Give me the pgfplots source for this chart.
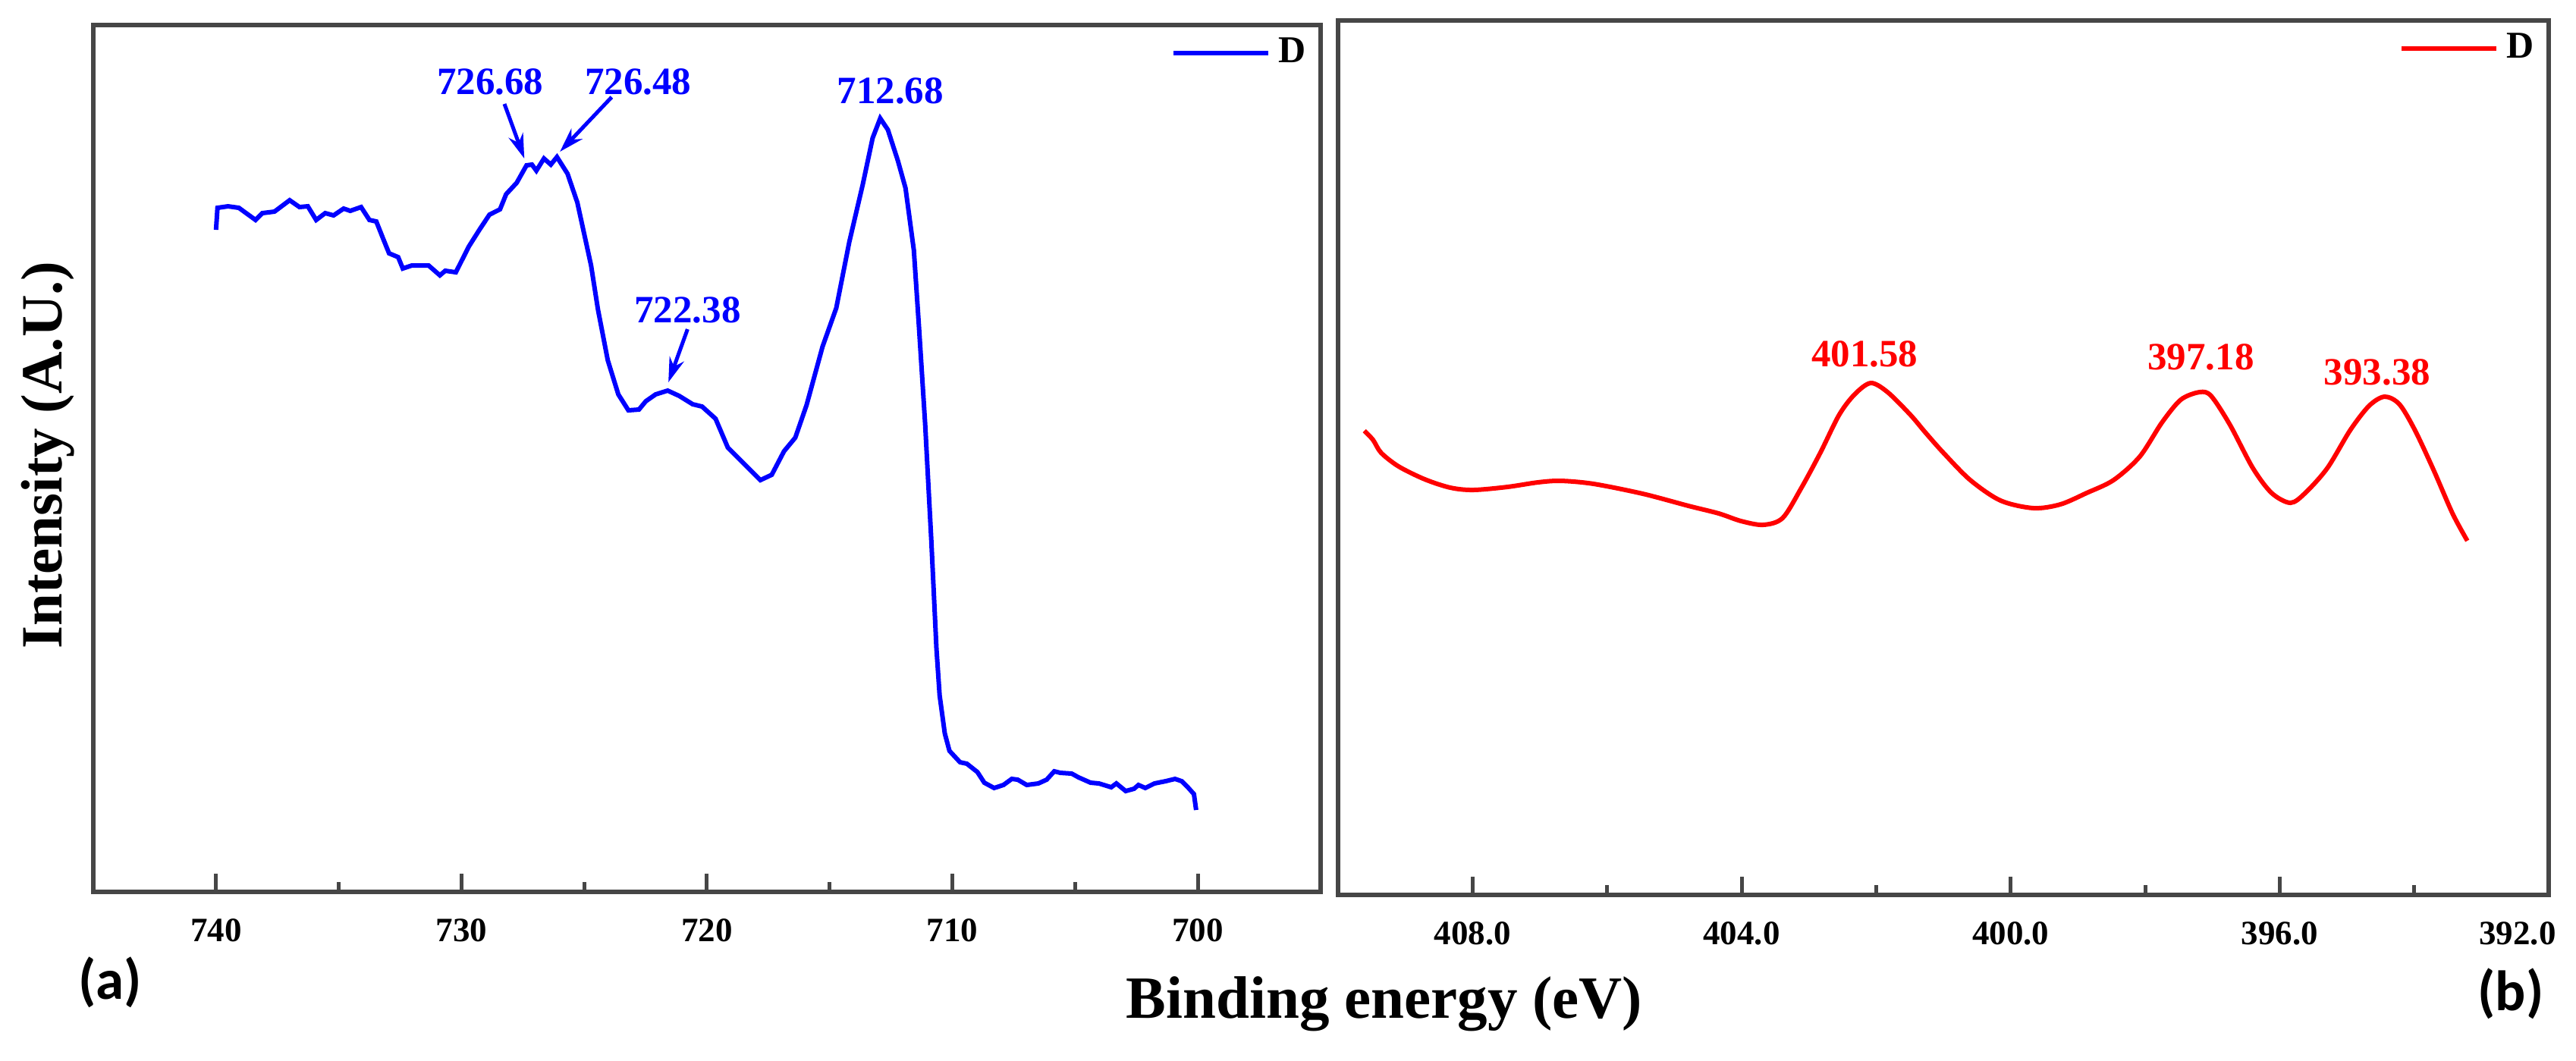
\documentclass[border=0pt]{standalone}
\usepackage{fontspec}
\setmainfont{Liberation Serif}
\newfontfamily\carlito{Carlito}
\usepackage{pgfplots}
\pgfplotsset{compat=1.18}
\usetikzlibrary{arrows.meta}

\definecolor{frame}{RGB}{70,70,70}
\definecolor{pblue}{RGB}{0,0,255}
\definecolor{pred}{RGB}{255,0,0}

\pgfplotsset{
  panel/.style={
    scale only axis,
    axis line style={frame, line width=1.1pt},
    x dir=reverse,
    ymin=0,
    ytick=\empty,
    xtick pos=bottom,
    tick align=inside,
    major tick length=4.8pt,
    minor tick length=2.6pt,
    minor x tick num=1,
    tick style={frame, line width=1pt},
    xticklabel style={font=\fontsize{9}{10}\selectfont\bfseries, yshift=-3.5pt},
    clip=false,
    legend style={draw=none, fill=none, at={(1,1)}, anchor=north east,
      xshift=-1.7pt, yshift=-1.1pt,
      font=\fontsize{10}{12}\selectfont\bfseries, inner sep=0pt},
    legend image code/.code={\draw[#1] (0pt,0pt) -- (25pt,0pt);},
  },
}

\pgfplotstableread{
E y
740.00 873
739.94 902
739.51 904
739.07 902
738.39 886
738.11 895
737.62 897
737.00 912
736.60 903
736.26 904
735.92 886
735.55 895
735.21 892
734.80 901
734.53 898
734.09 903
733.75 886
733.47 884
733.20 862
732.95 842
732.58 837
732.39 822
732.02 826
731.34 826
730.88 813
730.66 819
730.23 817
729.70 851
729.27 873
728.86 893
728.43 900
728.18 920
727.75 935
727.35 958
727.13 959
726.95 951
726.64 967
726.36 959
726.11 969
725.68 947
725.28 909
724.72 826
724.44 768
724.04 701
723.61 656
723.20 635
722.77 636
722.49 647
722.09 656
721.60 661
721.13 654
720.58 643
720.20 640
719.65 624
719.15 586
718.44 563
717.82 543
717.36 550
716.86 581
716.40 599
715.94 642
715.29 719
714.73 770
714.20 857
713.65 933
713.25 994
712.94 1020
712.63 1005
712.22 964
711.91 928
711.57 846
711.36 744
711.11 617
710.86 464
710.65 321
710.52 259
710.31 209
710.12 186
709.69 171
709.41 169
708.98 158
708.70 144
708.30 137
707.92 141
707.58 149
707.34 148
706.97 141
706.50 143
706.16 148
705.85 159
705.60 157
705.14 156
704.86 151
704.37 144
704.03 143
703.53 138
703.32 143
702.94 133
702.60 136
702.42 141
702.14 137
701.77 143
701.31 146
700.93 149
700.66 146
700.41 138
700.16 129
700.07 108
}\FeData

\pgfplotstableread{
E y
409.61 612
409.48 600
409.36 583
409.10 565
408.71 548
408.33 537
407.99 534
407.48 538
407.03 544
406.69 546
406.20 542
405.47 529
404.79 513
404.34 503
404.01 493
403.68 488
403.39 497
403.11 537
402.83 583
402.55 633
402.32 660
402.08 675
401.83 663
401.49 633
401.27 610
401.00 583
400.60 547
400.15 520
399.66 510
399.26 515
398.87 530
398.47 547
398.08 578
397.75 623
397.47 653
397.19 663
397.02 658
396.74 620
396.40 563
396.12 530
395.84 517
395.62 530
395.29 563
394.95 613
394.67 645
394.44 657
394.22 647
393.99 613
393.71 560
393.43 503
393.21 467
}\NData

\begin{document}
\begin{tikzpicture}
\path[use as bounding box] (0,0) rectangle (679.2pt,-279.6pt);

% (a) Fe 2p panel
\begin{axis}[panel,
  at={(24.6pt,-235.2pt)}, anchor=south west,
  width=323.6pt, height=228.6pt,
  xmin=695, xmax=745, ymax=1143,
  xtick={700,710,720,730,740},
  xticklabels={700,710,720,730,740},
]
\addplot[pblue, line width=1.2pt] table[x=E, y=y] {\FeData};
\addlegendentry{D}
\begin{scope}[every node/.style={text=pblue, font=\fontsize{10.2}{12}\selectfont\bfseries}]
\node at (axis cs:728.83,1068) {726.68};
\node at (axis cs:722.80,1068) {726.48};
\node at (axis cs:712.53,1056) {712.68};
\node at (axis cs:720.79,767) {722.38};
\end{scope}
\draw[pblue, line width=1pt, -{Stealth[length=6.5pt,width=4pt]}] (axis cs:728.25,1039) -- (axis cs:727.44,967);
\draw[pblue, line width=1pt, -{Stealth[length=6.5pt,width=4pt]}] (axis cs:723.88,1048) -- (axis cs:725.99,976);
\draw[pblue, line width=1pt, -{Stealth[length=6.5pt,width=4pt]}] (axis cs:720.79,742) -- (axis cs:721.57,672);
\end{axis}

% (b) N 1s panel
\begin{axis}[panel,
  at={(352.8pt,-236pt)}, anchor=south west,
  width=319.2pt, height=230.6pt,
  xmin=392, xmax=410, ymax=1153,
  xtick={392,396,400,404,408},
  xticklabels={\kern-16.4pt 392.0,396.0,400.0,404.0,408.0},
]
\addplot[pred, line width=1.2pt, smooth, tension=0.5] table[x=E, y=y] {\NData};
\addlegendentry{D}
\begin{scope}[every node/.style={text=pred, font=\fontsize{10.2}{12}\selectfont\bfseries}]
\node at (axis cs:402.17,713) {401.58};
\node at (axis cs:397.17,709) {397.18};
\node at (axis cs:394.55,689) {393.38};
\end{scope}
\end{axis}

% shared labels
\node[anchor=base, font=\fontsize{15.8}{18}\selectfont\bfseries] at (365pt,-268.4pt) {Binding energy (eV)};
\node[rotate=90, anchor=center, font=\fontsize{15.4}{18}\selectfont\bfseries] at (12.6pt,-120pt) {Intensity (A.U.)};
\node[anchor=center, font=\carlito\fontsize{15}{18}\selectfont\bfseries] at (29pt,-259pt) {(a)};
\node[anchor=center, font=\carlito\fontsize{15}{18}\selectfont\bfseries] at (662pt,-262pt) {(b)};
\end{tikzpicture}
\end{document}
